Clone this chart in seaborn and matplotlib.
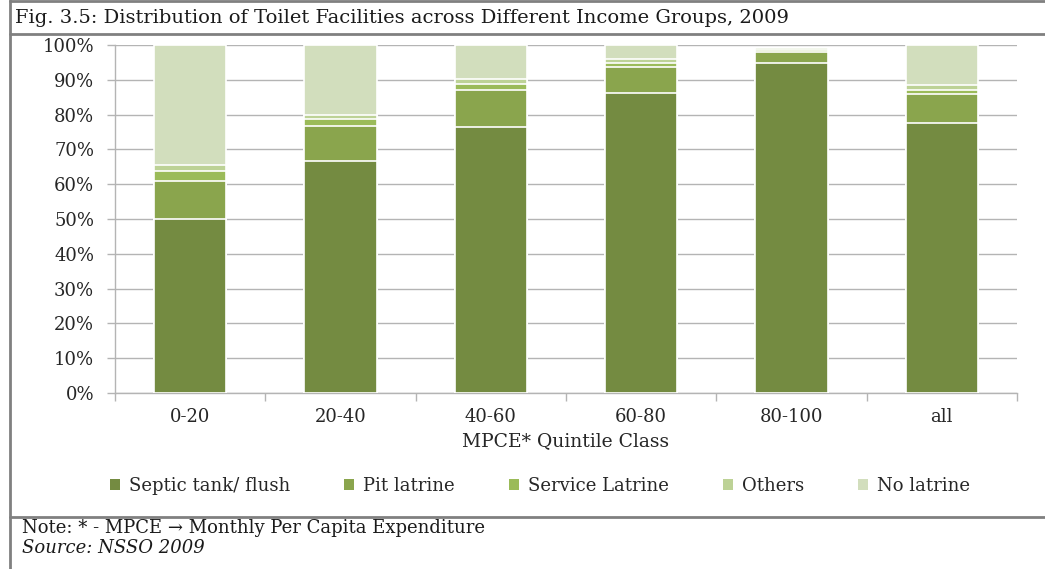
import numpy as np
import pandas as pd
import matplotlib
matplotlib.use("Agg")
import matplotlib.pyplot as plt
import seaborn as sns
from matplotlib.lines import Line2D
from matplotlib.patches import Patch

categories = ["0-20", "20-40", "40-60", "60-80", "80-100", "all"]
septic = [50.0, 66.7, 76.5, 86.3, 94.7, 77.7]
pit = [11.0, 10.0, 10.7, 7.5, 3.3, 8.2]
service = [2.9, 1.9, 1.5, 1.1, 0.6, 1.3]
others = [1.5, 1.2, 1.4, 1.2, 0.4, 1.3]
no_latrine = [34.6, 20.2, 9.9, 3.9, 0.2, 11.5]

series_names = ["Septic tank/ flush", "Pit latrine", "Service Latrine", "Others", "No latrine"]
series_vals = [septic, pit, service, others, no_latrine]
colors = ["#748B41", "#8AA54D", "#9BBB59", "#BDD296", "#D2DEBD"]

sns.set_theme(style="white")
plt.rcParams["font.family"] = ["DejaVu Serif"]

fig = plt.figure(figsize=(10.45, 5.69), dpi=100)
W, H = 1045, 569
ax = fig.add_axes([115 / W, 1 - 393 / H, (1017 - 115) / W, (393 - 45) / H])

cum = np.cumsum(np.array(series_vals), axis=0)
for i in range(len(series_names) - 1, -1, -1):
    d = pd.DataFrame({"cat": categories, "val": cum[i]})
    sns.barplot(data=d, x="cat", y="val", color=colors[i], width=0.48,
                edgecolor="white", linewidth=1.2, ax=ax, zorder=3,
                saturation=1, errorbar=None)

txt = "#262626"
ax.set_ylim(0, 100)
ax.set_xlim(-0.5, len(categories) - 0.5)
ax.set_yticks(np.arange(0, 101, 10))
ax.set_yticklabels([f"{v}%" for v in range(0, 101, 10)], fontsize=13, color=txt)
ax.yaxis.grid(True, color="#B4B4B4", linewidth=1.0, zorder=0)
ax.set_axisbelow(True)
ax.tick_params(axis="y", which="both", left=True, length=6, width=1, color="#B4B4B4", pad=9)
ax.set_xticks(range(len(categories)))
ax.set_xticklabels(categories, fontsize=13, color=txt)
ax.set_xticks(np.arange(-0.5, len(categories)), minor=True)
ax.tick_params(axis="x", which="major", length=0, pad=11)
ax.tick_params(axis="x", which="minor", bottom=True, length=6, width=1, color="#B4B4B4")
ax.set_xlabel("MPCE* Quintile Class", fontsize=13.5, color=txt, labelpad=4)
ax.set_ylabel("")
for s in ["top", "right"]:
    ax.spines[s].set_visible(False)
ax.spines["left"].set_color("#B4B4B4")
ax.spines["bottom"].set_color("#B4B4B4")
ax.spines["left"].set_linewidth(1)
ax.spines["bottom"].set_linewidth(1)

handles = [Patch(facecolor=c, edgecolor="none") for c in colors]
fig.legend(handles, series_names, loc="center", bbox_to_anchor=(540 / W, 1 - 486 / H),
           ncol=5, frameon=False, fontsize=13, handlelength=0.55, handleheight=0.55,
           handletextpad=0.5, columnspacing=3.0, labelcolor=txt)

# frame lines
lc = "#808080"
fig.add_artist(Line2D([10 / W, 10 / W], [0, 1], transform=fig.transFigure, color=lc, lw=2))
fig.add_artist(Line2D([10 / W, 1], [1 - 1 / H, 1 - 1 / H], transform=fig.transFigure, color=lc, lw=2))
fig.add_artist(Line2D([10 / W, 1], [1 - 34 / H, 1 - 34 / H], transform=fig.transFigure, color=lc, lw=2))
fig.add_artist(Line2D([10 / W, 1], [1 - 517 / H, 1 - 517 / H], transform=fig.transFigure, color=lc, lw=2))

fig.text(15 / W, 1 - 18 / H, "Fig. 3.5: Distribution of Toilet Facilities across Different Income Groups, 2009",
         fontsize=14, color="#1a1a1a", va="center", ha="left")
fig.text(22 / W, 1 - 528 / H, "Note: * - MPCE \u2192 Monthly Per Capita Expenditure",
         fontsize=13, color="#1a1a1a", va="center", ha="left")
fig.text(22 / W, 1 - 548 / H, "Source: NSSO 2009", fontsize=13, color="#1a1a1a",
         va="center", ha="left", style="italic")

fig.savefig("out.png", dpi=100)
